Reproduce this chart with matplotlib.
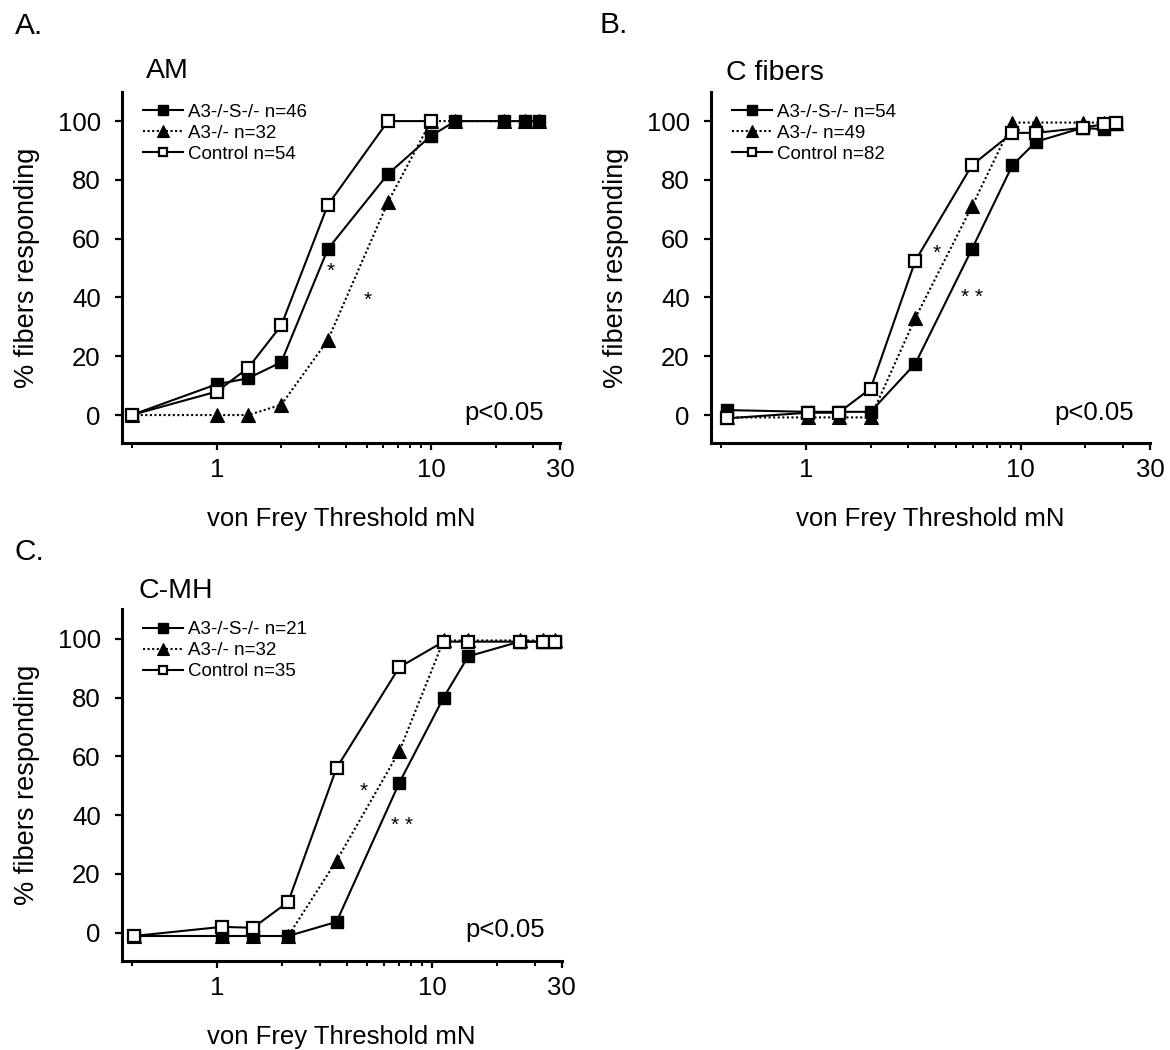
import numpy as np
import matplotlib
matplotlib.use('Agg')
import matplotlib.pyplot as plt
from matplotlib.ticker import FixedLocator, FixedFormatter, NullFormatter

plt.rcParams['font.family'] = ['Liberation Sans', 'DejaVu Sans']

nan = np.nan

# ---------------- data ----------------
# Panel A: AM
am_x = [0.4, 1.0, 1.4, 2.0, 3.3, 6.3, 10, 13, 22, 27.5, 32]
am_dko = [0, 10.5, 12.5, 18, 56.5, 82, 95, 100, 100, 100, 100]
am_a3 = [0, 0, 0, 3.5, 25.5, 72.5, 100, 100, 100, 100, 100]
am_ctrl = [0, 8, 16, 30.5, 71.5, 100, 100, nan, nan, nan, nan]
am_labels = ["A3-/-S-/- n=46", "A3-/- n=32", "Control n=54"]

# Panel B: C fibers
cf_x = [0.43, 1.02, 1.42, 2.0, 3.23, 5.93, 9.15, 11.8, 19.4, 24.5, 27.7]
cf_dko = [1.7, 1.1, 1.1, 1.1, 17.5, 56.5, 85, 93, 97.7, 97.2, 99]
cf_a3 = [-0.8, -0.8, -0.8, -0.8, 33, 71, 99.5, 99.5, 99.5, 99.5, 99.5]
cf_ctrl = [-1.1, 0.8, 0.8, 9, 52.5, 85, 96, 96, 97.7, 99, 99.4]
cf_labels = ["A3-/-S-/- n=54", "A3-/- n=49", "Control n=82"]

# Panel C: C-MH
mh_x = [0.41, 1.05, 1.47, 2.14, 3.59, 7.03, 11.3, 14.7, 25.5, 32.8, 37.2]
mh_dko = [-1.1, -1.1, -1.1, -1.1, 3.7, 51, 80, 94, 99, 99, 99]
mh_a3 = [-1.1, -1.1, -1.1, -1.1, 24.5, 61.7, 99.4, 99.4, 99.4, 99.4, 99.4]
mh_ctrl = [-1.1, 2, 1.7, 10.5, 56, 90.3, 99, 99, 99, 99, 99]
mh_labels = ["A3-/-S-/- n=21", "A3-/- n=32", "Control n=35"]

# significance marks: (x, y, text)
am_stars = [(3.42, 49, "*"), (5.07, 39, "*")]
cf_stars = [(4.07, 55, "*"), (5.95, 40, "* *")]
mh_stars = [(4.82, 48, "*"), (7.23, 36.5, "* *")]

panel_titles = ["AM", "C fibers", "C-MH"]
panel_letters = ["A.", "B.", "C."]

xtick_major_pos = [1, 10, 40]
xtick_major_lab = ["1", "10", "30"]
xtick_minor_pos = [0.4, 2, 3, 4, 5, 6, 7, 8, 9, 20, 30]
yticks = [0, 20, 40, 60, 80, 100]

# ---------------- figure ----------------
W, H = 1170, 1050
fig = plt.figure(figsize=(W / 100, H / 100), dpi=100)


def rect(l, t, r, b):
    return [l / W, 1 - b / H, (r - l) / W, (b - t) / H]


axA = fig.add_axes(rect(121.7, 91.7, 560, 443))
axB = fig.add_axes(rect(710.7, 91.7, 1150, 443))
axC = fig.add_axes(rect(121.7, 609.3, 561.7, 960.7))

dotted = (0, (1, 1.2))


def draw(ax, x, dko, a3, ctrl, labels, stars):
    l1, = ax.plot(x, dko, '-', color='black', lw=1.5, marker='s', ms=8.5,
                  mfc='black', mec='black', mew=1.0, zorder=4, label=labels[0])
    l2, = ax.plot(x, a3, linestyle=dotted, color='black', lw=1.5, marker='^',
                  ms=10.5, mfc='black', mec='black', mew=0.8, zorder=3, label=labels[1])
    l3, = ax.plot(x, ctrl, '-', color='black', lw=1.5, marker='s', ms=8,
                  mfc='white', mec='black', mew=1.6, zorder=5, label=labels[2])
    ax.set_xscale('log')
    ax.set_xlim(0.36, 40)
    ax.set_ylim(-9.5, 110)
    ax.xaxis.set_major_locator(FixedLocator(xtick_major_pos))
    ax.xaxis.set_major_formatter(FixedFormatter(xtick_major_lab))
    ax.xaxis.set_minor_locator(FixedLocator(xtick_minor_pos))
    ax.xaxis.set_minor_formatter(NullFormatter())
    ax.set_yticks(yticks)
    for s in ['top', 'right']:
        ax.spines[s].set_visible(False)
    for s in ['left', 'bottom']:
        ax.spines[s].set_linewidth(2.2)
    ax.tick_params(axis='both', which='major', length=5, width=1.6,
                   labelsize=18.5, direction='out')
    ax.tick_params(axis='x', which='major', pad=6)
    ax.tick_params(axis='y', which='major', pad=10)
    ax.tick_params(axis='x', which='minor', length=3.5, width=1.4, direction='out')
    ax.set_xlabel("von Frey Threshold mN", fontsize=18.5, labelpad=18)
    ax.set_ylabel("% fibers responding", fontsize=19.5, labelpad=13)
    ax.text(33.5, 0.8, "p<0.05", ha='right', va='center', fontsize=18.5)
    for sx, sy, st in stars:
        ax.text(sx, sy, st, ha='center', va='center', fontsize=15)
    ax.legend(handles=[l1, l2, l3], loc='upper left',
              bbox_to_anchor=(0.049, 0.966), frameon=False, fontsize=13.5,
              borderpad=0, borderaxespad=0, handlelength=2.1,
              handletextpad=0.3, labelspacing=0.2, markerscale=0.8,
              numpoints=1)
    return ax


draw(axA, am_x, am_dko, am_a3, am_ctrl, am_labels, am_stars)
draw(axB, cf_x, cf_dko, cf_a3, cf_ctrl, cf_labels, cf_stars)
draw(axC, mh_x, mh_dko, mh_a3, mh_ctrl, mh_labels, mh_stars)

# titles and panel letters (pixel positions converted to figure fraction)
title_pos = [(146, 77.5), (726, 80), (138, 598)]
letter_pos = [(15, 34), (600, 33), (15, 560)]
for (tx, ty), t in zip(title_pos, panel_titles):
    fig.text(tx / W, 1 - ty / H, t, fontsize=20.5, ha='left', va='baseline')
for (lx, ly), t in zip(letter_pos, panel_letters):
    fig.text(lx / W, 1 - ly / H, t, fontsize=21.5, ha='left', va='baseline')

fig.savefig('out.png', dpi=100)
